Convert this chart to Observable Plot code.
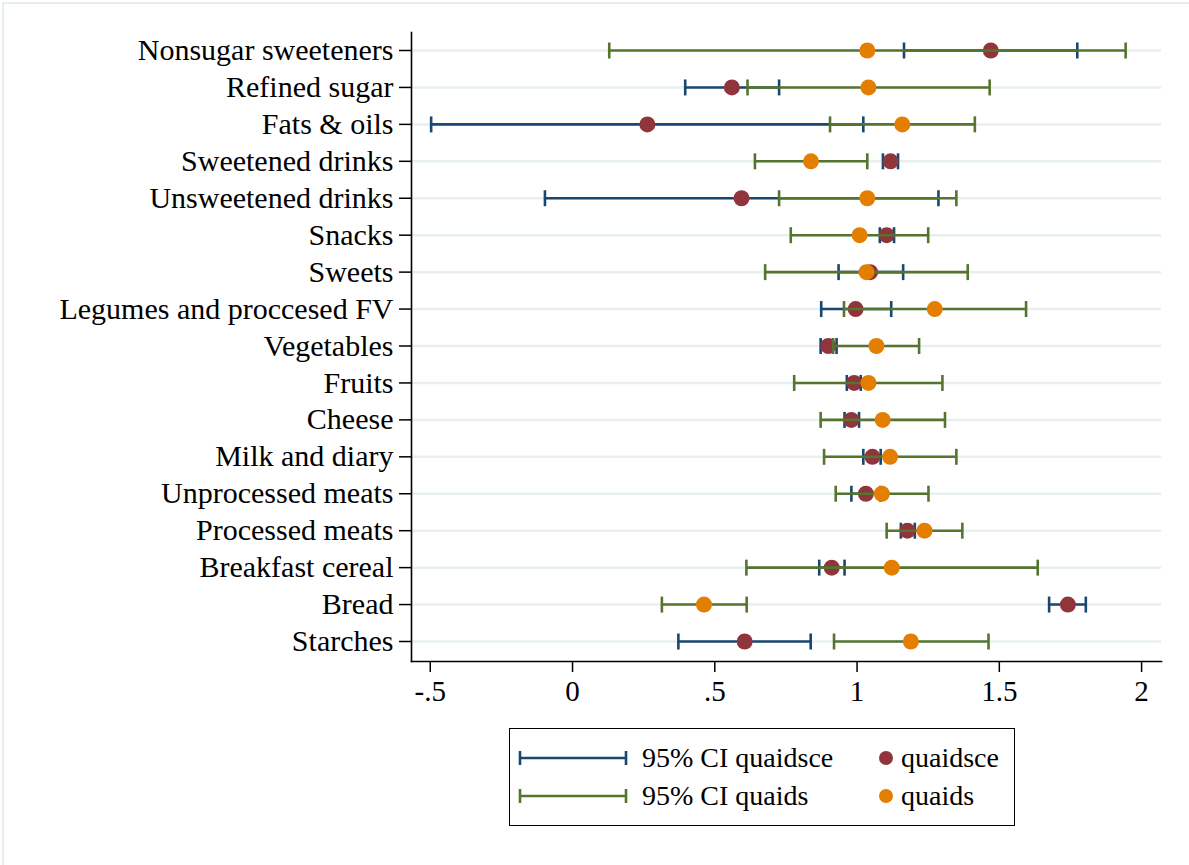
<!DOCTYPE html>
<html>
<head>
<meta charset="utf-8">
<script src="https://cdn.jsdelivr.net/npm/d3@7"></script>
<script src="https://cdn.jsdelivr.net/npm/@observablehq/plot@0.6"></script>
<style>
  html, body { margin: 0; padding: 0; background: #ffffff; }
  #wrap { position: relative; width: 1189px; height: 865px; overflow: hidden; background: #fff;
          font-family: "Liberation Serif", "Times New Roman", serif; }
  #border { position: absolute; left: 2px; top: 2px; width: 1200px; height: 900px;
            border-top: 2px solid #e6eef1; border-left: 2px solid #e6eef1; box-sizing: border-box; }
  #chart { position: absolute; left: 0; top: 0; }
  #legend { position: absolute; left: 509px; top: 728px; width: 506px; height: 98px;
            border: 1.5px solid #000; box-sizing: border-box; background: #fff; }
  .item { position: absolute; display: flex; align-items: center; font-size: 28px; color: #000; height: 30px; white-space: nowrap; }
  .item svg { display: block; }
</style>
</head>
<body>
<div id="wrap">
  <div id="border"></div>
  <div id="chart"></div>
  <div id="legend"></div>
</div>
<script>
const categories = [
  "Nonsugar sweeteners", "Refined sugar", "Fats & oils", "Sweetened drinks",
  "Unsweetened drinks", "Snacks", "Sweets", "Legumes and proccesed FV",
  "Vegetables", "Fruits", "Cheese", "Milk and diary", "Unprocessed meats",
  "Processed meats", "Breakfast cereal", "Bread", "Starches"
];
const quaidsceEst = [1.470, 0.560, 0.263, 1.118, 0.594, 1.104, 1.046, 0.995, 0.899, 0.990, 0.980, 1.054, 1.031, 1.177, 0.911, 1.741, 0.605];
const quaidsceLo  = [1.165, 0.396, -0.497, 1.091, -0.097, 1.080, 0.935, 0.874, 0.872, 0.964, 0.956, 1.022, 0.980, 1.154, 0.867, 1.675, 0.372];
const quaidsceHi  = [1.774, 0.726, 1.022, 1.144, 1.286, 1.130, 1.162, 1.120, 0.928, 1.013, 1.007, 1.083, 1.082, 1.203, 0.956, 1.804, 0.837];
const quaidsEst   = [1.036, 1.040, 1.159, 0.838, 1.036, 1.009, 1.033, 1.273, 1.068, 1.040, 1.090, 1.116, 1.087, 1.237, 1.122, 0.462, 1.189];
const quaidsLo    = [0.129, 0.615, 0.905, 0.641, 0.726, 0.767, 0.677, 0.954, 0.916, 0.779, 0.872, 0.884, 0.925, 1.104, 0.611, 0.314, 0.919];
const quaidsHi    = [1.944, 1.466, 1.414, 1.036, 1.349, 1.250, 1.389, 1.594, 1.218, 1.300, 1.309, 1.349, 1.251, 1.370, 1.635, 0.612, 1.462];
const xTicks = [-0.5, 0, 0.5, 1, 1.5, 2];
const xTickLabels = ["-.5", "0", ".5", "1", "1.5", "2"];
const seriesNames = ["95% CI quaidsce", "quaidsce", "95% CI quaids", "quaids"];

const BLUE = "#1a476f", GREEN = "#55752f", RED = "#90353b", ORANGE = "#e37e00";
const FONT = '"Liberation Serif", "Times New Roman", serif';

const sce = categories.map((c, i) => ({cat: c, est: quaidsceEst[i], lo: quaidsceLo[i], hi: quaidsceHi[i]}));
const q = categories.map((c, i) => ({cat: c, est: quaidsEst[i], lo: quaidsLo[i], hi: quaidsHi[i]}));
const capsOf = (rows) => rows.flatMap(d => [{cat: d.cat, v: d.lo}, {cat: d.cat, v: d.hi}]);

// vertical cap symbol for the CI ends
const capSymbol = {draw(ctx) { ctx.moveTo(0, -8); ctx.lineTo(0, 8); }};

const W = 1189, H = 715;
const chart = Plot.plot({
  width: W,
  height: H,
  marginLeft: 411,
  marginRight: 28,
  marginTop: 32,
  marginBottom: H - 661,
  style: {fontFamily: FONT, background: "transparent", color: "#000", overflow: "visible"},
  x: {domain: [-0.566, 2.07], range: [411, 1161]},
  y: {type: "point", domain: categories, range: [50, 641], padding: 0, round: false},
  marks: [
    Plot.gridY(categories, {stroke: "#e8eff1", strokeOpacity: 1, strokeWidth: 2.5}),
    Plot.frame({anchor: "left", stroke: "#000", strokeWidth: 1.6}),
    Plot.frame({anchor: "bottom", stroke: "#000", strokeWidth: 1.6}),
    Plot.axisY({tickSize: 12, tickPadding: 6, fontSize: 30, stroke: "#000", strokeWidth: 1.5, fill: "#000", label: null}),
    Plot.axisX({ticks: xTicks, tickFormat: (d) => xTickLabels[xTicks.indexOf(d)], tickSize: 11, tickPadding: 8,
                fontSize: 29, stroke: "#000", strokeWidth: 1.5, fill: "#000", label: null}),
    // quaidsce CI
    Plot.ruleY(sce, {y: "cat", x1: "lo", x2: "hi", stroke: BLUE, strokeWidth: 2.6}),
    Plot.dot(capsOf(sce), {x: "v", y: "cat", symbol: capSymbol, fill: "none", stroke: BLUE, strokeWidth: 2.6}),
    // quaidsce point
    Plot.dot(sce, {x: "est", y: "cat", r: 8, fill: RED, stroke: "none"}),
    // quaids CI
    Plot.ruleY(q, {y: "cat", x1: "lo", x2: "hi", stroke: GREEN, strokeWidth: 2.6}),
    Plot.dot(capsOf(q), {x: "v", y: "cat", symbol: capSymbol, fill: "none", stroke: GREEN, strokeWidth: 2.6}),
    // quaids point
    Plot.dot(q, {x: "est", y: "cat", r: 8, fill: ORANGE, stroke: "none"})
  ]
});
document.getElementById("chart").appendChild(chart);

// Legend (HTML, below the plot)
const legend = document.getElementById("legend");
function ciSwatch(color) {
  return `<svg width="112" height="30"><line x1="2" y1="15" x2="108" y2="15" stroke="${color}" stroke-width="2.6"/>` +
         `<line x1="2" y1="8" x2="2" y2="22" stroke="${color}" stroke-width="2.6"/>` +
         `<line x1="108" y1="8" x2="108" y2="22" stroke="${color}" stroke-width="2.6"/></svg>`;
}
function dotSwatch(color) {
  return `<svg width="16" height="30"><circle cx="8" cy="15" r="7" fill="${color}"/></svg>`;
}
const items = [
  {left: 8, top: 14, sw: ciSwatch(BLUE), gap: 12, text: seriesNames[0]},
  {left: 368, top: 14, sw: dotSwatch(RED), gap: 7, text: seriesNames[1]},
  {left: 8, top: 52, sw: ciSwatch(GREEN), gap: 12, text: seriesNames[2]},
  {left: 368, top: 52, sw: dotSwatch(ORANGE), gap: 7, text: seriesNames[3]}
];
for (const it of items) {
  const div = document.createElement("div");
  div.className = "item";
  div.style.left = it.left + "px";
  div.style.top = it.top + "px";
  div.innerHTML = it.sw + `<span style="margin-left:${it.gap}px">${it.text}</span>`;
  legend.appendChild(div);
}
</script>
</body>
</html>
